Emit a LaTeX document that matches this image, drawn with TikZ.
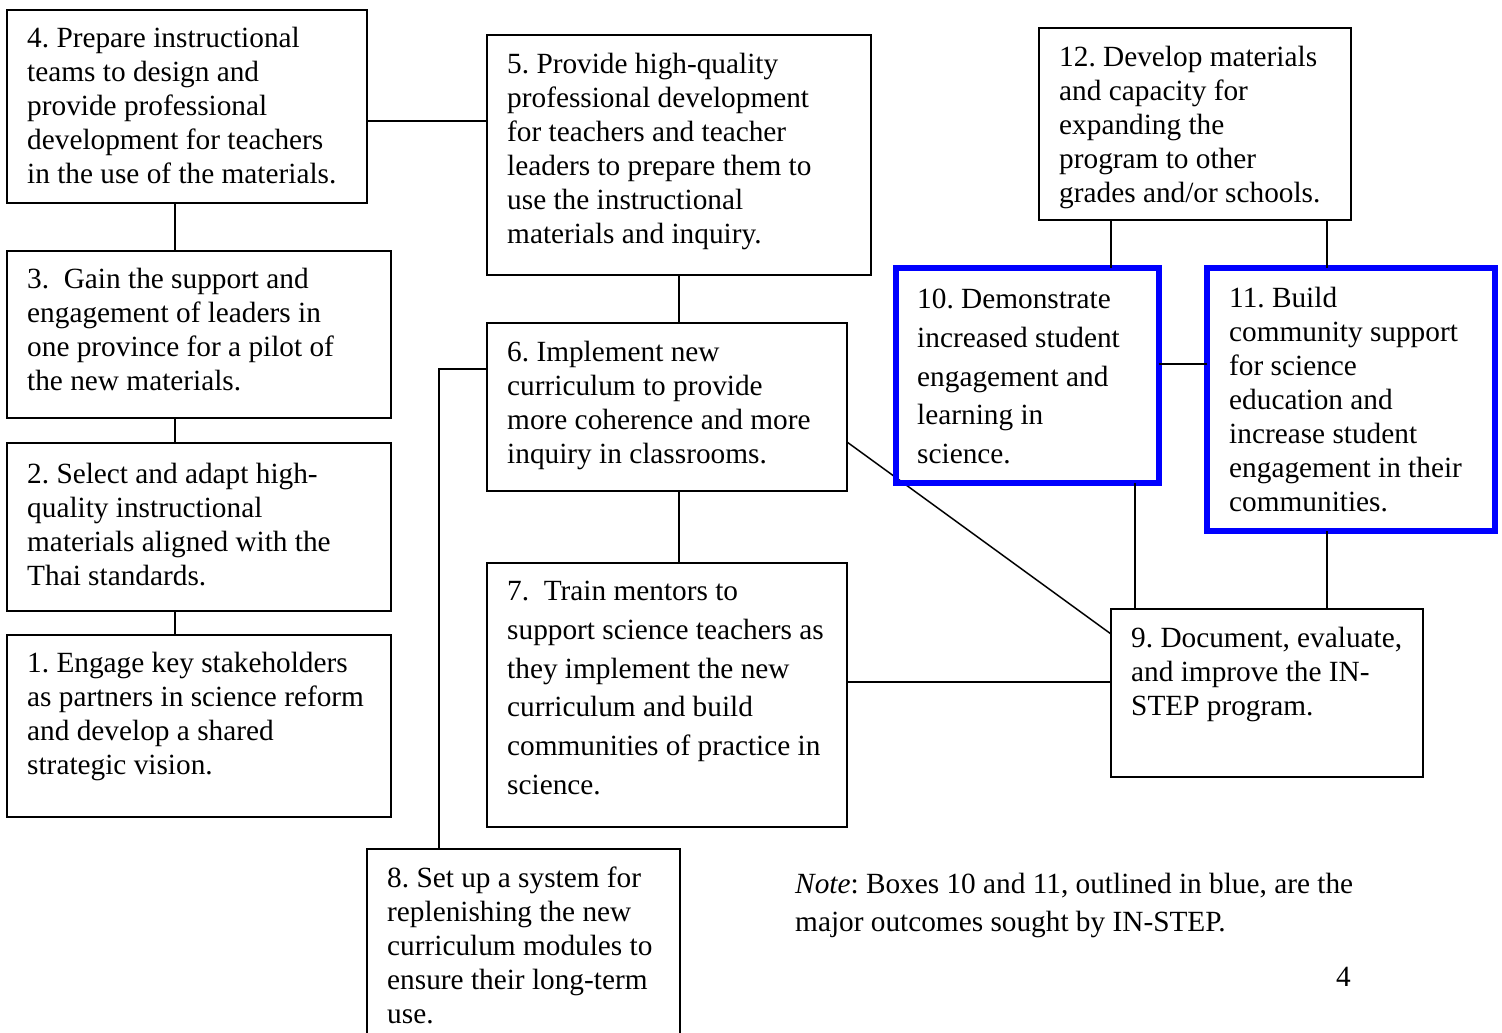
\documentclass[tikz,border=0pt]{standalone}
\usepackage{fontspec}
\setmainfont{Liberation Serif}
\frenchspacing
\newcommand{\fsA}{\fontsize{29.3}{34}\selectfont\frenchspacing}
\newcommand{\fsB}{\fontsize{29.3}{38.7}\selectfont\frenchspacing}
\begin{document}
\begin{tikzpicture}[x=1pt,y=-1pt,
  box/.style={draw=black, line width=2pt, anchor=north west, inner sep=0pt, outer sep=0pt},
  bluebox/.style={draw=blue, line width=6pt, anchor=north west, inner sep=0pt, outer sep=0pt},
  txt/.style={anchor=north west, inner sep=0pt, align=left, font=\fsA},
  txtB/.style={anchor=north west, inner sep=0pt, align=left, font=\fsB},
  link/.style={draw=black, line width=1.7pt},
  thinlink/.style={draw=black, line width=1.5pt}]
\useasboundingbox (0,0) rectangle (1502,1033);
\fill[white] (0,0) rectangle (1502,1033);

% boxes
\node[box, minimum width=360, minimum height=193] (b4) at (7,10) {};
\node[box, minimum width=384, minimum height=167] (b3) at (7,251) {};
\node[box, minimum width=384, minimum height=168] (b2) at (7,443) {};
\node[box, minimum width=384, minimum height=182] (b1) at (7,635) {};
\node[box, minimum width=384, minimum height=240] (b5) at (487,35) {};
\node[box, minimum width=360, minimum height=168] (b6) at (487,323) {};
\node[box, minimum width=360, minimum height=264] (b7) at (487,563) {};
\node[box, minimum width=313, minimum height=200] (b8) at (367,849) {};
\node[box, minimum width=312, minimum height=192] (b12) at (1039,28) {};
\node[box, minimum width=312, minimum height=168] (b9) at (1111,609) {};

% connectors
\draw[link] (b4.east |- 0,121) -- (b5.west |- 0,121);
\draw[link] (b4.south -| 175,0) -- (b3.north -| 175,0);
\draw[link] (b3.south -| 175,0) -- (b2.north -| 175,0);
\draw[link] (b2.south -| 175,0) -- (b1.north -| 175,0);
\draw[link] (b5.south -| 679,0) -- (b6.north -| 679,0);
\draw[link] (b6.south -| 679,0) -- (b7.north -| 679,0);
\draw[link] (b6.west |- 0,369) -| (b8.north -| 439,0);
\draw[link] (b7.east |- 0,682) -- (b9.west |- 0,682);
\draw[thinlink] (b6.east |- 0,442) -- (b9.west |- 0,634);

\node[bluebox, minimum width=263, minimum height=215] (b10) at (896,268) {};
\node[bluebox, minimum width=288, minimum height=263] (b11) at (1207,268) {};

\draw[link] (b10.east |- 0,364) -- (b11.west |- 0,364);
\draw[link] (b12.south -| 1111,0) -- (b10.north -| 1111,0);
\draw[link] (b12.south -| 1327,0) -- (b11.north -| 1327,0);
\draw[link] (b10.south -| 1135,0) -- (b9.north -| 1135,0);
\draw[link] (b11.south -| 1327,0) -- (b9.north -| 1327,0);

% texts (position = first baseline minus strut height)
\node[txt] (t4) at (27,23.2) {\strut 4. Prepare instructional\\teams to design and\\provide professional\\development for teachers\\in the use of the materials.};
\node[txt] (t3) at (27,264.2) {\strut 3.\ \ Gain the support and\\engagement of leaders in\\one province for a pilot of\\the new materials.};
\node[txt] (t2) at (27,459.2) {\strut 2. Select and adapt high-\\quality instructional\\materials aligned with the\\Thai standards.};
\node[txt] (t1) at (27,648.7) {\strut 1. Engage key stakeholders\\as partners in science reform\\and develop a shared\\strategic vision.};
\node[txt] (t5) at (507,49.2) {\strut 5. Provide high-quality\\professional development\\for teachers and teacher\\leaders to prepare them to\\use the instructional\\materials and inquiry.};
\node[txt] (t6) at (507,337.2) {\strut 6. Implement new\\curriculum to provide\\more coherence and more\\inquiry in classrooms.};
\node[txtB] (t7) at (507,573.4) {\strut 7.\ \ Train mentors to\\support science teachers as\\they implement the new\\curriculum and build\\communities of practice in\\science.};
\node[txt] (t8) at (387,863.2) {\strut 8. Set up a system for\\replenishing the new\\curriculum modules to\\ensure their long-term\\use.};
\node[txt] (t12) at (1059,42.2) {\strut 12. Develop materials\\and capacity for\\expanding the\\program to other\\grades and/or schools.};
\node[txtB] (t10) at (917,281.4) {\strut 10. Demonstrate\\increased student\\engagement and\\learning in\\science.};
\node[txt] (t11) at (1229,283.2) {\strut 11. Build\\community support\\for science\\education and\\increase student\\engagement in their\\communities.};
\node[txt] (t9) at (1131,623.2) {\strut 9. Document, evaluate,\\and improve the IN-\\STEP program.};
\node[txtB] (note) at (795,865.9) {\strut\textit{Note}: Boxes 10 and 11, outlined in blue, are the\\major outcomes sought by IN-STEP.};
\node[txt] (page) at (1336,962.2) {\strut 4};
\end{tikzpicture}
\end{document}
